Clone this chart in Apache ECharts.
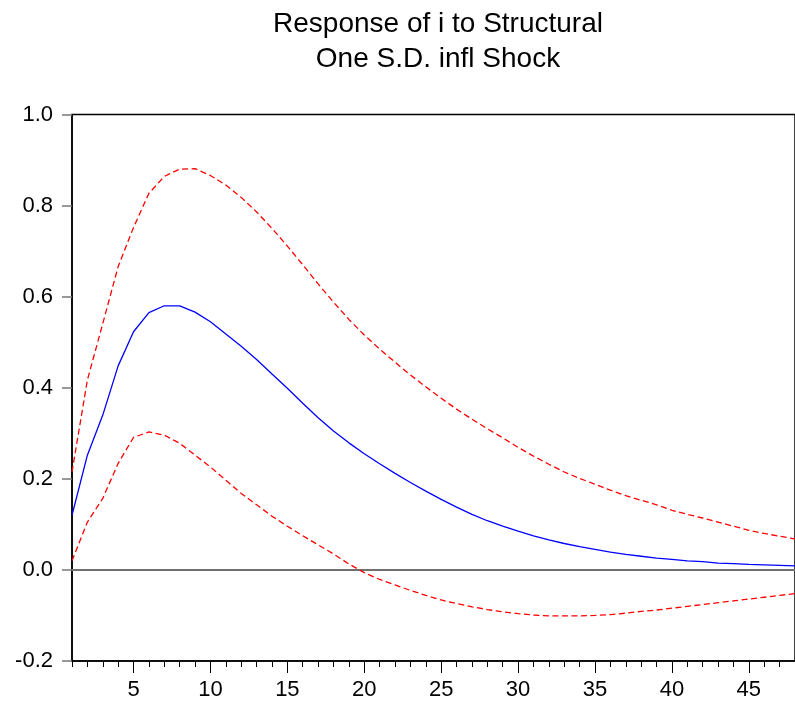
<!DOCTYPE html>
<html>
<head>
<meta charset="utf-8">
<script src="https://cdn.jsdelivr.net/npm/echarts@6/dist/echarts.min.js"></script>
<style>
  html, body { margin: 0; padding: 0; background: #ffffff; }
  #chart { width: 795px; height: 708px; }
</style>
</head>
<body>
<div id="chart"></div>
<script>
// ---- Data ----
var titleLines = ['Response of i to Structural', 'One S.D. infl Shock'];

var periods = [
  '1','2','3','4','5','6','7','8','9','10',
  '11','12','13','14','15','16','17','18','19','20',
  '21','22','23','24','25','26','27','28','29','30',
  '31','32','33','34','35','36','37','38','39','40',
  '41','42','43','44','45','46','47','48'
];

var response = [
  0.120, 0.252, 0.340, 0.448, 0.523, 0.565, 0.580, 0.580, 0.566, 0.545,
  0.518, 0.491, 0.462, 0.430, 0.399, 0.366, 0.334, 0.305, 0.279, 0.255,
  0.233, 0.212, 0.192, 0.173, 0.155, 0.138, 0.122, 0.108, 0.096, 0.085,
  0.075, 0.066, 0.058, 0.051, 0.045, 0.039, 0.034, 0.030, 0.026, 0.023,
  0.020, 0.018, 0.015, 0.014, 0.012, 0.011, 0.010, 0.009
];

var upperBand = [
  0.215, 0.417, 0.541, 0.666, 0.752, 0.827, 0.864, 0.880, 0.881, 0.866,
  0.845, 0.818, 0.786, 0.750, 0.711, 0.670, 0.628, 0.588, 0.550, 0.516,
  0.485, 0.456, 0.428, 0.402, 0.377, 0.353, 0.331, 0.310, 0.290, 0.269,
  0.250, 0.232, 0.215, 0.201, 0.188, 0.175, 0.163, 0.153, 0.143, 0.131,
  0.122, 0.114, 0.105, 0.096, 0.087, 0.080, 0.074, 0.068
];

var lowerBand = [
  0.020, 0.105, 0.157, 0.234, 0.291, 0.303, 0.296, 0.278, 0.252, 0.226,
  0.197, 0.168, 0.143, 0.118, 0.096, 0.075, 0.055, 0.035, 0.013, -0.006,
  -0.021, -0.033, -0.045, -0.056, -0.066, -0.074, -0.081, -0.087, -0.092, -0.096,
  -0.099, -0.101, -0.101, -0.101, -0.100, -0.098, -0.095, -0.091, -0.088, -0.084,
  -0.080, -0.076, -0.072, -0.068, -0.064, -0.060, -0.056, -0.052
];

var yMin = -0.2, yMax = 1.0, yStep = 0.2;
var majorEvery = 5;

// ---- Chart ----
var chart = echarts.init(document.getElementById('chart'), null, { renderer: 'canvas' });
var FONT = '"Liberation Sans", Arial, Helvetica, sans-serif';

var option = {
  backgroundColor: '#ffffff',
  animation: false,
  title: {
    text: titleLines.join('\n'),
    left: 438,
    top: 7,
    padding: 0,
    textAlign: 'center',
    textStyle: {
      fontFamily: FONT,
      fontSize: 28,
      fontWeight: 'normal',
      color: '#000000',
      lineHeight: 35
    }
  },
  grid: {
    left: 72,
    top: 114.5,
    width: 730,
    height: 546.5,
    show: true,
    borderColor: '#000000',
    borderWidth: 1.5,
    backgroundColor: '#ffffff'
  },
  xAxis: [
    {
      type: 'category',
      data: periods,
      boundaryGap: false,
      position: 'bottom',
      axisLine: { show: true, onZero: false, lineStyle: { color: '#000000', width: 1.5 } },
      axisTick: { show: true, interval: 0, length: 6, inside: false, lineStyle: { color: '#000000', width: 1 } },
      axisLabel: {
        show: true,
        interval: function (idx, val) { return Number(val) % majorEvery === 0; },
        margin: 18,
        fontFamily: FONT,
        fontSize: 22,
        color: '#000000'
      },
      splitLine: { show: false }
    },
    {
      type: 'category',
      data: periods,
      boundaryGap: false,
      position: 'bottom',
      offset: 0,
      axisLine: { show: false, onZero: false },
      axisTick: {
        show: true,
        interval: function (idx, val) { return Number(val) % majorEvery === 0; },
        length: 12,
        inside: false,
        lineStyle: { color: '#000000', width: 1 }
      },
      axisLabel: { show: false },
      splitLine: { show: false }
    }
  ],
  yAxis: {
    type: 'value',
    min: yMin,
    max: yMax,
    interval: yStep,
    axisLine: { show: true, onZero: false, lineStyle: { color: '#000000', width: 1.5 } },
    axisTick: { show: true, length: 10, inside: false, lineStyle: { color: '#777777', width: 1.5 } },
    axisLabel: {
      margin: 19,
      fontFamily: FONT,
      fontSize: 22,
      color: '#000000',
      formatter: function (v) { return v.toFixed(1); }
    },
    splitLine: { show: false }
  },
  series: [
    {
      name: 'Upper',
      type: 'line',
      xAxisIndex: 0,
      data: upperBand,
      symbol: 'none',
      smooth: false,
      lineStyle: { color: '#ff0000', width: 1.3, type: [6, 3.5] },
      z: 3
    },
    {
      name: 'Lower',
      type: 'line',
      xAxisIndex: 0,
      data: lowerBand,
      symbol: 'none',
      smooth: false,
      lineStyle: { color: '#ff0000', width: 1.3, type: [6, 3.5] },
      z: 3
    },
    {
      name: 'Response',
      type: 'line',
      xAxisIndex: 0,
      data: response,
      symbol: 'none',
      smooth: false,
      lineStyle: { color: '#0000ff', width: 1.3 },
      z: 4,
      markLine: {
        silent: true,
        symbol: ['none', 'none'],
        label: { show: false },
        lineStyle: { color: '#707070', width: 1.8, type: 'solid' },
        z: 2,
        data: [{ yAxis: 0 }]
      }
    }
  ]
};

chart.setOption(option);
</script>
</body>
</html>
